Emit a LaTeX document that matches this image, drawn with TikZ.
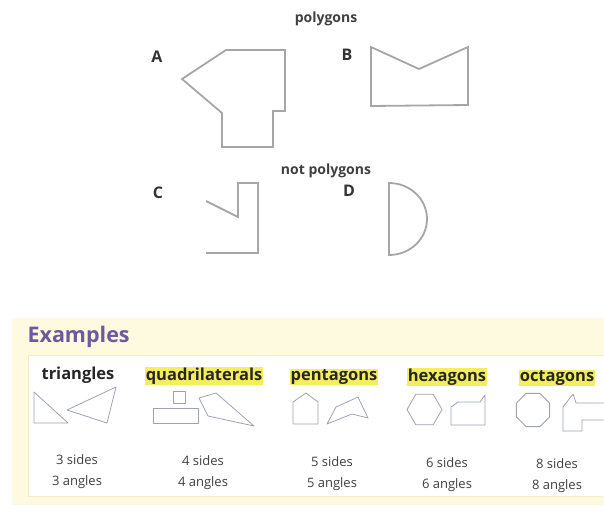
\documentclass[tikz,border=0pt]{standalone}
\usepackage{fontspec}
\setmainfont{Open Sans}
\usepackage{tikz}
\usetikzlibrary{positioning, shapes.geometric}

\definecolor{hiyellow}{HTML}{F4EE5C}
\definecolor{paleyellow}{HTML}{FDFAE0}
\definecolor{boxedge}{HTML}{F1EDC8}
\definecolor{exviolet}{HTML}{6B5B9E}
\definecolor{outline}{HTML}{9EA2B6}

\begin{document}
\begin{tikzpicture}[
  x=1pt, y=-1pt,
  heading/.style={font=\fontsize{14}{16}\selectfont\bfseries, text=black!75},
  letter/.style={font=\fontsize{16}{18}\selectfont\bfseries, text=black!80},
  figure/.style={draw=black!35, line width=1.8pt, line join=miter},
  sample/.style={draw=outline, line width=0.8pt, line join=round},
  family/.style={font=\fontsize{16.5}{18}\selectfont\bfseries, text=black!85, fill=hiyellow, inner sep=1pt},
  counts/.style={font=\fontsize{13}{21}\selectfont, text=black!75, align=center},
]
  \useasboundingbox (0,0) rectangle (604,516);

  % --- polygons ---
  \node[heading] (hdrpoly) at (326,19) {polygons};
  \node[letter] (lblA) at (157,57) {A};
  \node[letter] (lblB) at (347,55) {B};
  \draw[figure] (226,50) -- (285,50) -- (285,111) -- (273,111) -- (273,147)
    -- (222,147) -- (222,113) -- (182,79) -- cycle;
  \draw[figure] (371,47) -- (419,69) -- (468,47) -- (468,105) -- (371,106) -- cycle;

  % --- not polygons ---
  \node[heading] (hdrnot) at (326,171) {not polygons};
  \node[letter] (lblC) at (158,193) {C};
  \node[letter] (lblD) at (349,191) {D};
  \draw[figure] (206,201) -- (238,217) -- (238,183) -- (258,183) -- (258,253) -- (206,253);
  \draw[figure] (389,183) arc[start angle=-90, end angle=90, x radius=38, y radius=36] -- cycle;

  % --- examples panel ---
  \fill[paleyellow] (12,318) rectangle (604,505);
  \draw[boxedge, fill=white, line width=1pt] (28,355) -- (606,355) (606,496) -- (28,496) -- (28,355);
  \fill[white] (28.5,355.5) rectangle (604,495.5);
  \node[font=\fontsize{21.5}{23}\selectfont\bfseries, text=exviolet, anchor=west] (hdrex) at (24,337) {Examples};

  \node[family, fill=none] (fam3) at (78,375) {triangles};
  \node[family] (fam4) at (204,376) {quadrilaterals};
  \node[family] (fam5) at (334,377) {pentagons};
  \node[family] (fam6) at (447,377) {hexagons};
  \node[family] (fam8) at (557,378) {octagons};

  \node[counts] (cnt3) at (77,472) {3 sides\\3 angles};
  \node[counts] (cnt4) at (203,473) {4 sides\\4 angles};
  \node[counts] (cnt5) at (332,474) {5 sides\\5 angles};
  \node[counts] (cnt6) at (447,475) {6 sides\\6 angles};
  \node[counts] (cnt8) at (557,476) {8 sides\\8 angles};

  % --- sample shapes ---
  \draw[sample] (34,392) -- (68,423) -- (34,423) -- cycle;
  \draw[sample] (67,410) -- (116,387) -- (107,423) -- cycle;
  \draw[sample] (173,391) rectangle (185,403);
  \draw[sample] (153,408) rectangle (198,423);
  \draw[sample] (199,398) -- (216,393) -- (254,426) -- (208,416) -- cycle;
  \draw[sample] (293,402) -- (306,393) -- (318,402) -- (318,424) -- (293,424) -- cycle;
  \draw[sample] (327,424) -- (336,407) -- (358,397) -- (368,418) -- (352,414) -- cycle;
  \node[sample, regular polygon, regular polygon sides=6, minimum size=35pt, inner sep=0pt] (hexA) at (424.5,409.5) {};
  \draw[sample] (451,407) -- (458,402) -- (480,402) -- (485,395) -- (485,425) -- (451,425) -- cycle;
  \node[sample, regular polygon, regular polygon sides=8, minimum size=36pt, inner sep=0pt] (octA) at (533,410) {};
  \draw[sample] (563,407) -- (573,394) -- (576,403) -- (608,403) -- (608,420) -- (582,420)
    -- (582,431) -- (563,431) -- cycle;
\end{tikzpicture}
\end{document}
